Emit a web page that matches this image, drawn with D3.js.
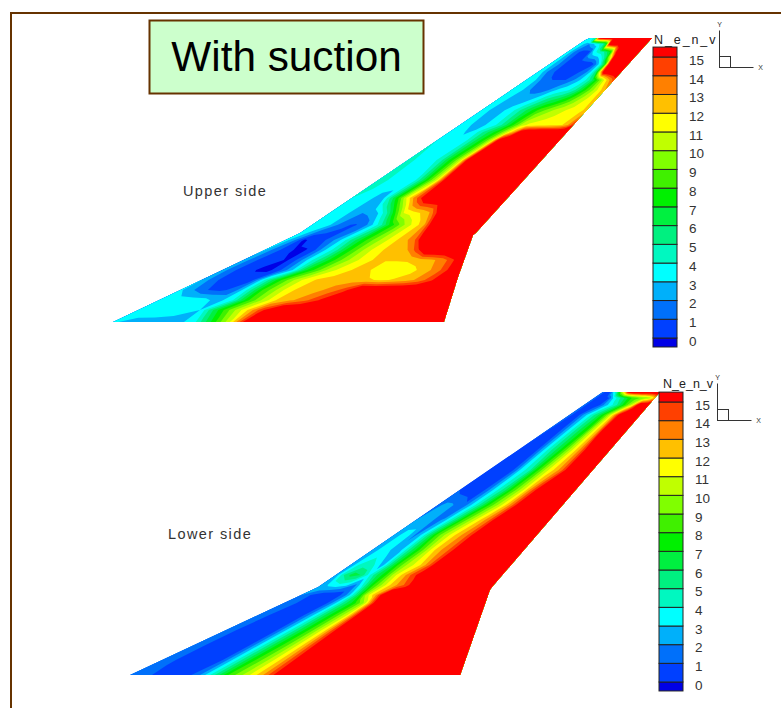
<!DOCTYPE html>
<html>
<head>
<meta charset="utf-8">
<script src="https://d3js.org/d3.v7.min.js"></script>
<style>
  body { margin: 0; background: #fff; }
  text { font-family: "Liberation Sans", Arial, sans-serif; }
</style>
</head>
<body>
<div id="chart"></div>
<script>
// contour levels of N_env and the colour of each band (first one is below 0)
const levels = d3.range(0, 16);
const bandColors = ["#0000e6", "#0040ff", "#0070fa", "#00b0fa", "#00ffff", "#00f8c0", "#00f080", "#00f040",
  "#00f000", "#40f000", "#80ff00", "#c0ff00", "#ffff00", "#ffc000", "#ff8000", "#ff4000", "#ff0000"];
const legendEdges = [-0.48, ...levels, 15.53];

// chordwise fraction of each grid column
const chordStops = [0, .05, .1, .15, .2, .25, .3, .35, .4, .45, .5, .55, .6, .65, .7, .75, .8, .85, .9, .95, 1];

// planform of the wing, x and span both 0..1
const upperLeSpan = [0, .313, .993, 1];
const upperLeX = [0, .347, .876, .885];
const upperTeSpan = [0, .158, .306, .313, .63, 1];
const upperTeX = [.614, .640, .668, .673, .824, 1];
const lowerLeSpan = [0, .311, 1];
const lowerLeX = [0, .355, .892];
const lowerTeSpan = [0, .30, .311, 1];
const lowerTeX = [.623, .679, .683, 1];

// spanwise stations of the rows below
const upperStations = [0, .042, .077, .113, .148, .183, .218, .254, .289, .342, .384, .437, .5, .57, .641, .669, .694, .746, .817, .852, .88, .908, .951, .979, 1];
const upperN = [
  [3.2, 2.6, 2.5, 2.5, 2.6, 4, 7.3, 10.7, 15.8, 17, 17, 17, 17, 17, 17, 17, 17, 17, 17, 17, 17],
  [3.5, 3.7, 3.8, 3.5, 3, 6.5, 9.3, 11.8, 14.7, 17, 17, 17, 17, 17, 17, 17, 17, 17, 17, 17, 17],
  [3.5, 3.6, 3.7, 3.5, 2.5, 3.8, 7.6, 10, 12, 12.8, 13.7, 15.1, 17, 17, 17, 17, 17, 17, 17, 17, 17],
  [3.2, 2, 1, .7, 1.5, 4.5, 8, 10, 11.8, 12.4, 12.7, 13.4, 14.5, 17, 17, 17, 17, 17, 17, 17, 17],
  [3, 1.2, .6, .5, .8, 4.2, 7.4, 9.6, 11.2, 12.1, 12.4, 12.5, 12.5, 12.2, 11.8, 12.1, 12.5, 13.3, 14.8, 17, 17],
  [2.6, 1.1, .5, -.1, -.2, 1.1, 3.2, 6.8, 8.6, 10.5, 11.4, 12.1, 12.6, 11.3, 11.2, 11.2, 11.7, 12.6, 13.4, 15.2, 17],
  [2.8, 1.2, .5, .2, -.1, 1.3, 3.5, 5.4, 7.5, 9.2, 10.6, 11.5, 12.2, 12.1, 12.1, 12.2, 12.5, 12.8, 13.3, 14.8, 17],
  [3.2, 1.5, .6, -.1, -.1, 1, 3, 4.6, 7, 8.8, 10.4, 11.5, 12.2, 12.5, 12.9, 14.5, 17, 17, 17, 17, 17],
  [3.5, 2, -.1, .2, .7, 1.7, 3.1, 5, 6.8, 8.5, 9.8, 11, 12, 12.8, 14.1, 17, 17, 17, 17, 17, 17],
  [4, 3.8, 3.2, 2, 1.1, .9, 1.3, 2.9, 4.6, 7, 8.7, 10.3, 11.5, 12.6, 16, 17, 17, 17, 17, 17, 17],
  [4, 3.8, 3.3, 2.4, 2, 2.3, 3.1, 5, 8, 11, 11.5, 12, 12.7, 15, 17, 17, 17, 17, 17, 17, 17],
  [4, 3.9, 3.5, 2.8, 2.7, 5.2, 8, 11, 13.3, 15.2, 17, 17, 17, 17, 17, 17, 17, 17, 17, 17, 17],
  [4.2, 4.1, 3.8, 3.5, 3.4, 3.7, 5.7, 8.3, 10.7, 15, 17, 17, 17, 17, 17, 17, 17, 17, 17, 17, 17],
  [4.2, 4, 3.8, 3.6, 3.7, 4.7, 6.7, 8.4, 11, 16, 17, 17, 17, 17, 17, 17, 17, 17, 17, 17, 17],
  [4, 3.8, 3.5, 3.2, 3.4, 4.1, 5.6, 7, 8.5, 11, 15.8, 17, 17, 17, 17, 17, 17, 17, 17, 17, 17],
  [4, 3.7, 3.2, 2.9, 3.1, 4.2, 5.3, 6.4, 7.4, 9, 11, 13, 16, 17, 17, 17, 17, 17, 17, 17, 17],
  [3.9, 3.5, 3, 2.7, 2.8, 3.2, 3.7, 4.6, 5.8, 7.4, 8.8, 10.6, 11.2, 11.4, 11.5, 11.6, 11.7, 11.8, 12, 13, 15],
  [4, 3.4, 2.6, 2.3, 2.8, 3.3, 3.8, 4.7, 5.6, 6.5, 7.4, 8.4, 9, 9.7, 10.2, 10.6, 11, 11.3, 11.6, 11.8, 12.5],
  [4, 3.8, 3.3, 2.6, 2, 1.7, 1.6, 1.6, 2, 2.7, 3.2, 3.5, 3.8, 4.4, 5.4, 6.8, 8.2, 9.4, 10.6, 11.8, 13],
  [4, 3.7, 3.2, 2.2, 1.5, 1.1, 1, 1, 1, 1, 1.5, 2.1, 2.8, 3.5, 4.4, 5.8, 7.7, 9.5, 11.5, 13, 14.5],
  [3.8, 3.2, 2.2, 1.4, 1, .8, .6, .6, .7, .8, 1, 1.4, 2.2, 3.6, 6, 12, 17, 17, 17, 17, 17],
  [3.8, 3, 2.3, 1.5, .8, .5, .2, .1, .1, .1, .2, .8, 2.2, 4, 7, 15, 17, 17, 17, 17, 17],
  [3.8, 2.8, 1.8, 1.1, .7, .4, .6, 3, 4, 4.5, 4.8, 6, 7.4, 13, 17, 17, 17, 17, 17, 17, 17],
  [3.7, 3.3, 2.5, 2, 2.5, 3.5, 4, 4.6, 7, 16, 17, 17, 17, 17, 17, 17, 17, 17, 17, 17, 17],
  [3.8, 4, 5, 15.5, 17, 17, 17, 17, 17, 17, 17, 17, 17, 17, 17, 17, 17, 17, 17, 17, 17]
];

const lowerStations = [0, .053, .106, .159, .212, .254, .283, .318, .353, .389, .442, .495, .548, .601, .654, .724, .795, .866, .919, .954, .979, 1];
const lowerN = [
  [2, 1.2, .6, .5, 1.2, 4.5, 8.2, 10.4, 12.8, 16, 17, 17, 17, 17, 17, 17, 17, 17, 17, 17, 17],
  [2, .9, .5, .4, 1, 4.2, 7.6, 10, 12.6, 16, 17, 17, 17, 17, 17, 17, 17, 17, 17, 17, 17],
  [2, .8, .4, .4, .8, 3.9, 7, 9.5, 12.4, 16, 17, 17, 17, 17, 17, 17, 17, 17, 17, 17, 17],
  [2, .8, .4, .3, .7, 3.5, 6.4, 9, 12, 16, 17, 17, 17, 17, 17, 17, 17, 17, 17, 17, 17],
  [2, 1, .5, .4, .7, 3.1, 6, 8.4, 11, 15.8, 17, 17, 17, 17, 17, 17, 17, 17, 17, 17, 17],
  [2, 1.2, .5, .2, .2, 2.5, 5.5, 7.6, 10.2, 15.5, 17, 17, 17, 17, 17, 17, 17, 17, 17, 17, 17],
  [2, 1, .3, .3, .6, 2.3, 5.8, 10.4, 13, 17, 17, 17, 17, 17, 17, 17, 17, 17, 17, 17, 17],
  [2, 3.3, 3.7, 3.2, 1.8, 4.5, 7.8, 10, 12, 13.3, 14.5, 17, 17, 17, 17, 17, 17, 17, 17, 17, 17],
  [2, 5, 6.5, 6, 3.7, 6, 7.8, 10.5, 12.2, 14, 15.5, 17, 17, 17, 17, 17, 17, 17, 17, 17, 17],
  [2, 4, 4.5, 4, 2.5, 5.5, 8.2, 10, 11.2, 12.3, 14.3, 17, 17, 17, 17, 17, 17, 17, 17, 17, 17],
  [2, 3.3, 3.5, 2.3, 3.1, 5.5, 7.6, 9.6, 11.7, 12.9, 13.9, 15.6, 17, 17, 17, 17, 17, 17, 17, 17, 17],
  [2, 3.2, 3.3, 1.8, 3.4, 5.8, 8.3, 9.9, 11.3, 12.6, 13.5, 15.2, 17, 17, 17, 17, 17, 17, 17, 17, 17],
  [2, 2.6, 2.5, 1.7, 2.1, 3.9, 5.8, 8.2, 9.7, 11.2, 12.6, 14, 16, 17, 17, 17, 17, 17, 17, 17, 17],
  [1.5, 2.3, 2.2, 1.8, 1.1, 2.5, 4, 5.7, 7.7, 9.2, 10.6, 12.2, 14, 16, 17, 17, 17, 17, 17, 17, 17],
  [1, .5, .3, .3, .6, 1.9, 3.4, 4.6, 6.1, 8, 9.5, 11, 13, 14.8, 17, 17, 17, 17, 17, 17, 17],
  [1, .2, .1, .1, .4, 1.2, 3, 4, 5, 7.1, 8.7, 10.4, 11.6, 12.5, 13.7, 15.5, 17, 17, 17, 17, 17],
  [1, .3, .1, .1, .7, 2.2, 3.6, 4.7, 5.8, 6.9, 8.3, 9.8, 11.3, 12.6, 14.1, 16, 17, 17, 17, 17, 17],
  [1.2, .5, .2, .5, 1.6, 2.8, 3.9, 5, 6, 7, 8, 10, 11.5, 13, 15.7, 17, 17, 17, 17, 17, 17],
  [1.5, .8, .4, 1.1, 2.2, 3.1, 4, 5, 5.8, 7, 8.2, 9.8, 11.5, 13.5, 15.5, 17, 17, 17, 17, 17, 17],
  [1.5, .8, .4, .3, .5, 1, 1.9, 2.7, 3.5, 4.1, 4.8, 6, 7.2, 8.4, 9.8, 11.2, 14, 17, 17, 17, 17],
  [1.5, .8, .5, .4, .6, 1, 2.7, 3.6, 4.5, 5.3, 6, 6.9, 7.8, 8.3, 8.7, 9, 9.3, 9.6, 10, 11, 13],
  [1.5, .8, .6, 1.2, 3.5, 5, 8, 11, 13, 16, 17, 17, 17, 17, 17, 17, 17, 17, 17, 17, 17]
];

// legend labels
const legendTicks = d3.range(15, -1, -1);

const svg = d3.select("#chart").append("svg")
  .attr("width", 781)
  .attr("height", 708)
  .style("display", "block");

const brown = "#663300";
const color = d3.scaleThreshold().domain(levels).range(bandColors);

// page frame, only top and left are inside the picture
svg.append("path")
  .attr("d", "M781,13 H11 V708")
  .attr("fill", "none")
  .attr("stroke", brown)
  .attr("stroke-width", 2);

svg.append("rect")
  .attr("x", 149.5).attr("y", 20.5)
  .attr("width", 274).attr("height", 73)
  .attr("fill", "#ccffcc")
  .attr("stroke", brown)
  .attr("stroke-width", 2);

svg.append("text")
  .attr("x", 286.5).attr("y", 71)
  .attr("text-anchor", "middle")
  .attr("font-size", 42.3)
  .attr("fill", "#000")
  .text("With suction");

function drawWing(opt) {
  const x = d3.scaleLinear().domain([0, 1]).range(opt.xRange);
  const y = d3.scaleLinear().domain([0, 1]).range(opt.yRange);
  const le = d3.scaleLinear().domain(opt.leSpan).range(opt.leX);
  const te = d3.scaleLinear().domain(opt.teSpan).range(opt.teX);

  // grid index -> span / chord
  const spanOf = d3.scaleLinear().domain(d3.range(opt.stations.length)).range(opt.stations);
  const chordOf = d3.scaleLinear().domain(d3.range(chordStops.length)).range(chordStops);

  const project = d3.geoTransform({
    point: function (i, j) {
      const s = spanOf(j - 0.5), c = chordOf(i - 0.5);
      this.stream.point(x(le(s) + c * (te(s) - le(s))), y(s));
    }
  });
  const path = d3.geoPath(project);

  const outline = opt.leSpan.map((s, i) => [x(opt.leX[i]), y(s)])
    .concat(opt.teSpan.map((s, i) => [x(opt.teX[i]), y(s)]).reverse());

  svg.append("clipPath").attr("id", opt.id)
    .append("polygon")
    .attr("points", outline.map(p => p.join(",")).join(" "));

  const g = svg.append("g").attr("clip-path", "url(#" + opt.id + ")");

  g.append("polygon")
    .attr("points", outline.map(p => p.join(",")).join(" "))
    .attr("fill", color(-1));

  const contours = d3.contours()
    .size([chordStops.length, opt.stations.length])
    .thresholds(levels)(opt.values.flat());

  g.selectAll("path.band")
    .data(contours)
    .enter().append("path")
    .attr("class", "band")
    .attr("d", path)
    .attr("fill", d => color(d.value));

  // colour bar
  const legendY = d3.scaleLinear().domain([0, 15]).range(opt.legendRange);
  const bar = svg.append("g");
  bar.selectAll("rect")
    .data(d3.pairs(legendEdges))
    .enter().append("rect")
    .attr("x", opt.legendX)
    .attr("width", 24)
    .attr("y", d => legendY(d[1]))
    .attr("height", d => legendY(d[0]) - legendY(d[1]))
    .attr("fill", d => color(d[0]))
    .attr("stroke", "#222")
    .attr("stroke-width", 1);

  const axis = svg.append("g")
    .attr("transform", "translate(" + (opt.legendX + 36) + ",3)")
    .call(d3.axisRight(legendY).tickValues(legendTicks).tickSize(0).tickPadding(0).tickFormat(d3.format("d")));
  axis.select(".domain").remove();
  axis.selectAll("text")
    .attr("font-size", 13.5)
    .attr("fill", "#333")
    .style("font-family", "'Liberation Sans', Arial, sans-serif");

  svg.append("text")
    .attr("x", opt.titleX).attr("y", opt.titleY)
    .attr("font-size", 12.5)
    .attr("letter-spacing", opt.titleSpacing)
    .attr("fill", "#222")
    .text("N_e_n_v");

  svg.append("text")
    .attr("x", opt.sideX).attr("y", opt.sideY)
    .attr("font-size", 14.5)
    .attr("letter-spacing", 1.4)
    .attr("fill", "#333")
    .text(opt.side);

  // small axis triad in the corner
  const t = opt.triad;
  const triad = svg.append("g").attr("fill", "none").attr("stroke", "#333").attr("stroke-width", 1);
  triad.append("path").attr("d", `M${t[0]},${t[1] - 37} V${t[1]} H${t[0] + 34}`);
  triad.append("rect").attr("x", t[0]).attr("y", t[1] - 11).attr("width", 11).attr("height", 11);
  svg.append("text").attr("x", t[0]).attr("y", t[1] - 41)
    .attr("font-size", 7).attr("text-anchor", "middle").attr("fill", "#333").text("Y");
  svg.append("text").attr("x", t[0] + 41).attr("y", t[1] + 2)
    .attr("font-size", 7).attr("text-anchor", "middle").attr("fill", "#333").text("X");
}

drawWing({
  id: "upper-wing", side: "Upper side",
  xRange: [113, 652], yRange: [322, 38],
  leSpan: upperLeSpan, leX: upperLeX, teSpan: upperTeSpan, teX: upperTeX,
  stations: upperStations, values: upperN,
  legendX: 653, legendRange: [338, 57],
  titleX: 654, titleY: 44, titleSpacing: 1.9,
  sideX: 183, sideY: 196,
  triad: [719.5, 67.5]
});

drawWing({
  id: "lower-wing", side: "Lower side",
  xRange: [130, 660], yRange: [675, 392],
  leSpan: lowerLeSpan, leX: lowerLeX, teSpan: lowerTeSpan, teX: lowerTeX,
  stations: lowerStations, values: lowerN,
  legendX: 659, legendRange: [682, 402],
  titleX: 663, titleY: 388, titleSpacing: 0,
  sideX: 168, sideY: 539,
  triad: [717.5, 420.5]
});
</script>
</body>
</html>
